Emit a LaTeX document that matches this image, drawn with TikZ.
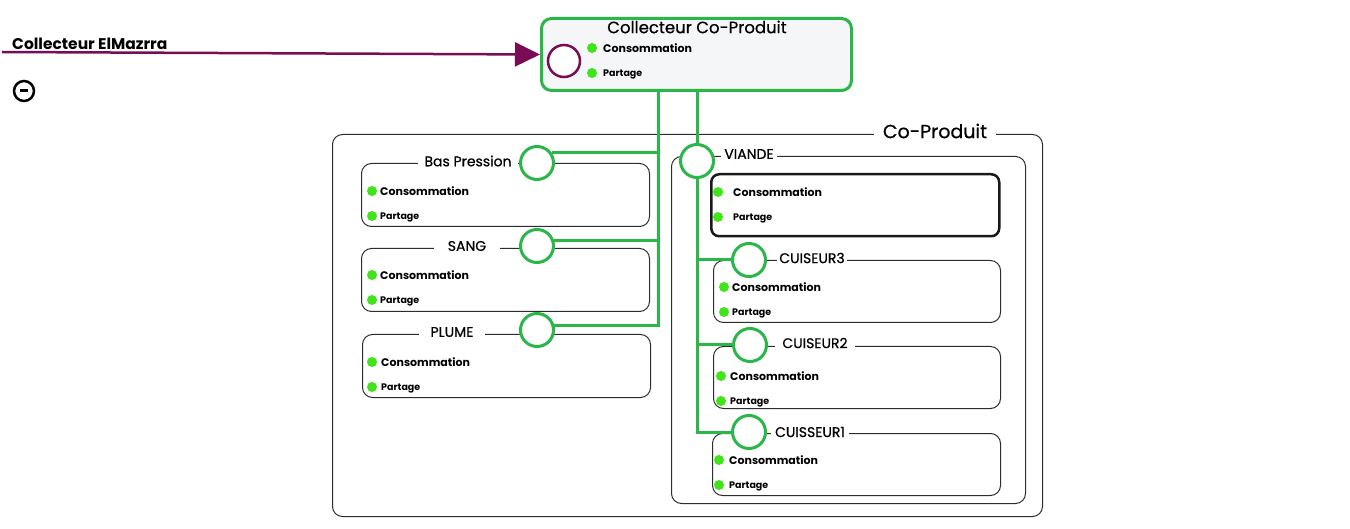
\documentclass[tikz,border=0pt]{standalone}
\usepackage{fontspec}
\setmainfont{Poppins}
\newfontfamily\medfont[FakeBold=0.6]{Poppins}
\usetikzlibrary{arrows.meta,positioning}

\definecolor{pipegreen}{RGB}{43,182,74}
\definecolor{ledgreen}{RGB}{64,228,24}
\definecolor{plum}{RGB}{122,12,86}
\definecolor{panelgray}{RGB}{244,246,247}
\definecolor{edgegray}{RGB}{45,45,45}

% one pair of readings (dot + text) inside a box
\newcommand{\meters}[4]{%
  \node[led] (#1-l1) at (#2,#4) {};
  \node[cons] (#1-c) at (#3,#4) {Consommation};
  \node[led] (#1-l2) at (#2,#4+25) {};
  \node[part] (#1-p) at (#3,#4+26) {Partage};
}

\begin{document}
\begin{tikzpicture}[x=1pt,y=-1pt,
    panel/.style={draw=edgegray,line width=1pt,rounded corners=10pt,anchor=north west,inner sep=0pt},
    tag/.style={fill=white,inner xsep=6pt,inner ysep=1pt,font=\medfont\fontsize{14}{14}\selectfont},
    port/.style={circle,draw=pipegreen,line width=3pt,fill=white,minimum size=33pt,inner sep=0pt},
    pipe/.style={draw=pipegreen,line width=3pt},
    led/.style={circle,fill=ledgreen,minimum size=10pt,inner sep=0pt},
    cons/.style={anchor=west,inner sep=0pt,font=\bfseries\fontsize{11}{11}\selectfont},
    part/.style={anchor=west,inner sep=0pt,font=\bfseries\fontsize{9.5}{9.5}\selectfont},
    feed/.style={draw=plum,line width=2.5pt,-{Triangle[length=25pt,width=24pt]}}]
  \useasboundingbox (0,0) rectangle (1350,529);

  % input
  \node[anchor=west,inner sep=0pt,font=\bfseries\fontsize{15.5}{15.5}\selectfont] (src-label) at (12,44) {Collecteur ElMazrra};
  \coordinate (src) at (2,52);
  \node[circle,draw,line width=2.5pt,minimum size=20pt,inner sep=0pt] (fold) at (24,91) {\rule{8pt}{3pt}};

  % main collector
  \node[panel,draw=pipegreen,line width=3pt,fill=panelgray,minimum width=310pt,minimum height=72pt] (collect) at (540,17) {};
  \node[font=\medfont\fontsize{16.5}{16.5}\selectfont,inner sep=0pt] (collect-title) at (697,27) {Collecteur Co-Produit};
  \node[circle,draw=plum,line width=2.5pt,fill=white,minimum size=32pt,inner sep=0pt] (collect-in) at (564,61) {};
  \meters{collect}{592}{603}{48}
  \draw[feed] (src) -- (collect.west);

  % co-produit group
  \node[panel,minimum width=710pt,minimum height=382pt] (coprod) at (332,134) {};
  \node[tag,inner xsep=9pt,font=\medfont\fontsize{19}{19}\selectfont] (coprod-title) at (935,131) {Co-Produit};

  % left column
  \node[panel,minimum width=288pt,minimum height=63pt] (bas) at (361,163) {};
  \node[panel,minimum width=288pt,minimum height=63pt] (sang) at (361,248) {};
  \node[panel,minimum width=288pt,minimum height=63pt] (plume) at (362,334) {};
  \node[tag] (bas-title) at (468,161) {Bas Pression};
  \node[tag,inner xsep=14pt] (sang-title) at (467,246) {SANG};
  \node[tag,inner xsep=12pt] (plume-title) at (452,332) {PLUME};
  \meters{bas}{372}{380}{191}
  \meters{sang}{372}{380}{275}
  \meters{plume}{372}{381}{362}

  % right column
  \node[panel,minimum width=354pt,minimum height=347pt] (viande) at (671,156) {};
  \node[tag,inner xsep=3pt] (viande-title) at (749,154) {VIANDE};
  \node[panel,draw=black!90,line width=2.5pt,rounded corners=8pt,minimum width=288pt,minimum height=62pt] (viande-box) at (710,173) {};
  \meters{viande}{718}{733}{192}
  \node[panel,minimum width=287pt,minimum height=62pt] (cuis3) at (713,260) {};
  \node[panel,minimum width=287pt,minimum height=62pt] (cuis2) at (713,346) {};
  \node[panel,minimum width=288pt,minimum height=62pt] (cuis1) at (712,433) {};
  \node[tag,inner xsep=2pt] (cuis3-title) at (812,258) {CUISEUR3};
  \node[tag,inner xsep=7pt] (cuis2-title) at (815,343) {CUISEUR2};
  \node[tag,inner xsep=4pt] (cuis1-title) at (810,432) {CUISSEUR1};
  \meters{cuis3}{724}{732}{287}
  \meters{cuis2}{721}{730}{376}
  \meters{cuis1}{719}{729}{460}

  % ports
  \node[port] (p-bas) at (537,163) {};
  \node[port] (p-sang) at (537,246) {};
  \node[port] (p-plume) at (537,330) {};
  \node[port] (p-viande) at (697,161) {};
  \node[port] (p-cuis3) at (749,260) {};
  \node[port] (p-cuis2) at (750,345) {};
  \node[port] (p-cuis1) at (749,432) {};

  % pipes
  \coordinate (busL) at (658,0);
  \draw[pipe] (collect.south -| busL) |- (p-plume.15);
  \draw[pipe] (p-bas.35 -| busL) -- (p-bas.35);
  \draw[pipe] (p-sang.17 -| busL) -- (p-sang.17);
  \draw[pipe] (collect.south -| p-viande) -- (p-viande.north);
  \draw[pipe] (p-viande.south) |- (p-cuis1.west);
  \draw[pipe] (p-cuis3.west -| p-viande) -- (p-cuis3.west);
  \draw[pipe] (p-cuis2.west -| p-viande) -- (p-cuis2.west);
\end{tikzpicture}
\end{document}
